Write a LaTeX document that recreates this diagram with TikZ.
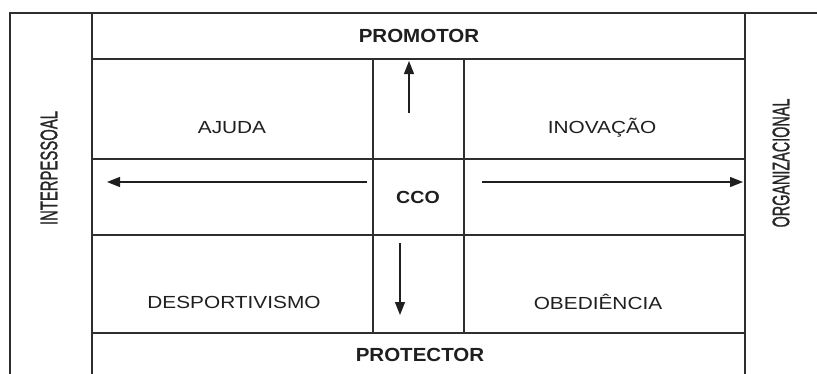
\documentclass[tikz,border=0pt]{standalone}
\usepackage{fontspec}
\setmainfont{Liberation Sans}
\usepackage{graphicx}
\usetikzlibrary{arrows.meta}
% horizontally stretch or squeeze a label
\newcommand\stretchx[2]{\scalebox{#1}[1]{#2}}
\begin{document}
\begin{tikzpicture}[x=1pt,y=-1pt,
  grid/.style={draw=black!82, line width=1.1pt},
  cell/.style={font=\fontsize{17.5}{17.5}\selectfont, text=black!88, inner sep=0pt},
  head/.style={font=\fontsize{19}{19}\selectfont\bfseries, text=black!88, inner sep=0pt},
  side/.style={font=\fontsize{24}{24}\selectfont\addfontfeature{FakeBold=1.2}, text=black!85, rotate=90, inner sep=0pt},
  arr/.style={-{Triangle[length=13pt,width=10pt]}, line width=1.3pt, draw=black!88}]
\useasboundingbox (0,0) rectangle (817,373);
\clip (0,0) rectangle (817,373);

% outer frame and side columns
\draw[grid] (10,390) -- (10,13) -- (830,13);
\draw[grid] (92,13) -- (92,390);
\draw[grid] (745,13) -- (745,390);

% rows of the central grid
\draw[grid] (92,59) -- (745,59);
\draw[grid] (92,159) -- (745,159);
\draw[grid] (92,235) -- (745,235);
\draw[grid] (92,333) -- (745,333);

% central column
\draw[grid] (373,59) -- (373,333);
\draw[grid] (464,59) -- (464,333);

% labels
\node[head] (promotor) at (419,36) {\stretchx{1.08}{PROMOTOR}};
\node[head] (protector) at (420,355) {\stretchx{1.08}{PROTECTOR}};
\node[cell] (ajuda) at (232,128) {\stretchx{1.19}{AJUDA}};
\node[cell] (inovacao) at (602,128) {\stretchx{1.19}{INOVAÇÃO}};
\node[cell] (desp) at (234,302) {\stretchx{1.19}{DESPORTIVISMO}};
\node[cell] (obed) at (598,302) {\stretchx{1.19}{OBEDIÊNCIA}};
\node[cell, font=\fontsize{17.5}{17.5}\selectfont\bfseries] (cco) at (418,197) {\stretchx{1.12}{CCO}};
\node[side] (inter) at (49,168) {\stretchx{0.62}{INTERPESSOAL}};
\node[side] (org) at (781,163) {\stretchx{0.6}{ORGANIZACIONAL}};

% arrow ends
\coordinate (lfrom) at (367,182);
\coordinate (lto) at (107,182);
\coordinate (rfrom) at (482,182);
\coordinate (rto) at (743,182);
\coordinate (ufrom) at (409,113);
\coordinate (uto) at (409,61);
\coordinate (dfrom) at (400,243);
\coordinate (dto) at (400,315);

\draw[arr] (lfrom) -- (lto);
\draw[arr] (rfrom) -- (rto);
\draw[arr] (ufrom) -- (uto);
\draw[arr] (dfrom) -- (dto);
\end{tikzpicture}
\end{document}
